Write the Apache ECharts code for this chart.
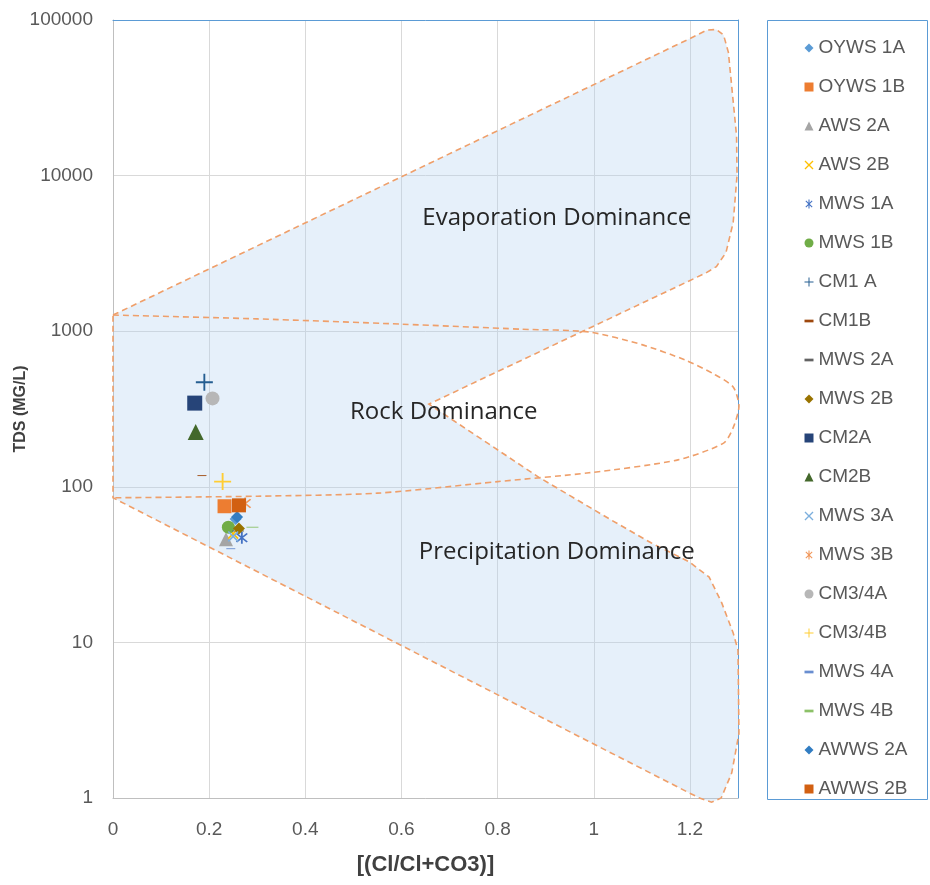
<!DOCTYPE html>
<html><head><meta charset="utf-8">
<script src="https://cdn.jsdelivr.net/npm/echarts@6/dist/echarts.min.js"></script>
<style>html,body{margin:0;padding:0;background:#fff}#c{width:930px;height:885px}</style>
</head><body><div id="c"></div>
<script>
// ---- data ----
const seriesNames = ['OYWS 1A','OYWS 1B','AWS 2A','AWS 2B','MWS 1A','MWS 1B','CM1 A','CM1B','MWS 2A','MWS 2B',
  'CM2A','CM2B','MWS 3A','MWS 3B','CM3/4A','CM3/4B','MWS 4A','MWS 4B','AWWS 2A','AWWS 2B'];
const seriesX = [0.255,0.232,0.235,0.250,0.268,0.240,0.190,0.185,0.260,0.262,
  0.170,0.172,0.250,0.275,0.207,0.228,0.245,0.290,0.258,0.262];
const seriesY = [62,75,46,50,47,55,470,118,52,54,
  345,225,48,78,370,108,40,55,64,76];
const xTicks = [0,0.2,0.4,0.6,0.8,1,1.2];
const yTicks = [1,10,100,1000,10000,100000];

// Gibbs boomerang outline (Cl/(Cl+CO3), TDS)
const shapeX = [0,1.20,1.235,1.255,1.27,1.28,1.29,1.297,1.298,1.29,1.275,1.255,1.233,
  0.657,0.886,1.037,1.12,1.198,1.24,1.266,1.29,1.30,1.302,1.287,1.265,1.245,1.22,1.198,0];
const shapeY = [1270,76000,86000,87000,80000,62000,30000,18000,10000,5000,3200,2600,2366,
  340,115,61,43.5,33,26.3,18,11.5,8.9,2.6,1.45,1.0,0.94,1.0,1.08,85];
// Rock dominance loop
const loopX = [0,0.3,0.6,0.85,0.99,1.1,1.19,1.25,1.29,1.302,1.29,1.27,1.175,0.99,0.8,0.55,0.3,0];
const loopY = [1270,1200,1110,1030,988,820,653,530,438,330,240,191,149,123,108,91,87,85];
const regionLabels = ['Evaporation Dominance','Rock Dominance','Precipitation Dominance'];
const regionX = [0.923,0.688,0.923];
const regionY = [5340,302,38.1];

// ---- styles ----
function barsPath(angles, len, th) {
  return 'path://' + angles.map(a => {
    const r = a*Math.PI/180, c = Math.cos(r), s = Math.sin(r), hl = len/2, ht = th/2;
    const pts = [[-hl,-ht],[hl,-ht],[hl,ht],[-hl,ht]].map(([x,y]) => [10+x*c-y*s, 10+x*s+y*c]);
    return 'M' + pts.map(p => p[0].toFixed(2)+','+p[1].toFixed(2)).join('L') + 'Z';
  }).join('');
}
const SYM = {
  diamond:'diamond', square:'rect', triangle:'triangle', circle:'circle',
  x: barsPath([45,-45],20,2.4), star: barsPath([45,-45,90],20,2.4), plus: barsPath([0,90],20,2.2),
  dash: 'path://M0,0L10,0L10,3L0,3Z'
};
const styleList = [
  ['diamond','#5B9BD5',12],['square','#ED7D31',14],['triangle','#A5A5A5',14],['x','#FFC000',11],
  ['star','#4472C4',12],['circle','#70AD47',13],['plus','#255E91',17],['dash','#9E480E',[9,3]],
  ['dash','#636363',[12,3]],['diamond','#997300',12],['square','#264478',15],['triangle','#43682B',16],
  ['x','#7CAFDD',11],['star','#F1975A',12],['circle','#B7B7B7',14],['plus','#FFCD33',17],
  ['dash','#698ED0',[9,3]],['dash','#8CC168',[12,3]],['diamond','#327DC2',12],['square','#D26012',14]
];

const FILL = 'rgba(176,208,238,0.32)';
const DASH = '#EF9F6A';
const FONT = '"Liberation Sans",sans-serif';

const series = [];
series.push({
  type:'custom', silent:true, z:1, clip:false, data:[[0,1]],
  renderItem:(p, api) => ({
    type:'polygon',
    shape:{points: shapeX.map((x,i) => api.coord([x, shapeY[i]]))},
    style:{fill:FILL, stroke:DASH, lineWidth:1.6, lineDash:[6,4]}
  })
});
series.push({
  type:'custom', silent:true, z:2, clip:false, data:[[0,1]],
  renderItem:(p, api) => ({
    type:'polyline',
    shape:{points: loopX.map((x,i) => api.coord([x, loopY[i]])), smooth:0.25},
    style:{fill:null, stroke:DASH, lineWidth:1.6, lineDash:[6,4]}
  })
});
series.push({
  type:'custom', silent:true, z:2, data:[[0,1]],
  renderItem:(p, api) => ({
    type:'group',
    children: regionLabels.map((t,i) => {
      const pt = api.coord([regionX[i], regionY[i]]);
      return {type:'text', x:pt[0], y:pt[1],
        style:{text:t, fontSize:24, fontFamily:'"Open Sans", sans-serif', fill:'#262626', align:'center', verticalAlign:'middle'}};
    })
  })
});
seriesNames.forEach((n,i) => {
  const st = styleList[i];
  series.push({
    type:'scatter', name:n, z:5, symbol:SYM[st[0]], symbolSize:st[2],
    symbolKeepAspect: st[0]==='dash',
    itemStyle:{color:st[1], opacity:1},
    data:[[seriesX[i], seriesY[i]]]
  });
});

const chart = echarts.init(document.getElementById('c'), null, {renderer:'canvas'});
chart.setOption({
  animation:false,
  backgroundColor:'#ffffff',
  grid:{left:113, right:192, top:20, bottom:87, show:false, containLabel:false, outerBoundsMode:'none'},
  xAxis:[{type:'value', min:0, max:1.3, interval:0.2,
    name:'[(Cl/Cl+CO3)]', nameLocation:'middle', nameGap:56, nameMoveOverlap:false,
    nameTextStyle:{fontSize:22, fontWeight:'bold', color:'#404040', fontFamily:'"Liberation Sans Narrow","Liberation Sans",sans-serif'},
    axisLine:{show:true, onZero:false, lineStyle:{color:'#BFBFBF', width:1}}, axisTick:{show:false},
    axisLabel:{showMaxLabel:false, margin:22, fontSize:19, color:'#595959', fontFamily:FONT,
      formatter:v => xTicks.some(t => Math.abs(t-v)<1e-6) ? String(+v.toFixed(1)) : ''},
    splitLine:{show:true, lineStyle:{color:'#D9D9D9', width:1}}},
    {type:'value', position:'top', min:0, max:1.3, interval:0.2,
    axisLine:{show:true, onZero:false, lineStyle:{color:'#5B9BD5', width:1}}, axisTick:{show:false},
    axisLabel:{show:false}, splitLine:{show:false}}],
  yAxis:[{type:'log', logBase:10, min:yTicks[0], max:yTicks[yTicks.length-1],
    name:'TDS (MG/L)', nameLocation:'middle', nameGap:84, nameMoveOverlap:false,
    nameTextStyle:{fontSize:16, fontWeight:'bold', color:'#404040', fontFamily:FONT},
    axisLine:{show:true, onZero:false, lineStyle:{color:'#BFBFBF', width:1}}, axisTick:{show:false}, minorTick:{show:false},
    axisLabel:{margin:20, fontSize:19, color:'#595959', fontFamily:FONT, formatter:v => String(Math.round(v))},
    splitLine:{show:true, lineStyle:{color:'#D9D9D9', width:1}}},
    {type:'log', logBase:10, position:'right', min:yTicks[0], max:yTicks[yTicks.length-1],
    axisLine:{show:true, onZero:false, lineStyle:{color:'#5B9BD5', width:1}}, axisTick:{show:false},
    axisLabel:{show:false}, splitLine:{show:false}}],
  legend:{orient:'vertical', left:799.5, top:33.5, itemWidth:9, itemHeight:9, itemGap:20, selectedMode:false,
    data:seriesNames,
    textStyle:{color:'#595959', fontSize:19, lineHeight:19, fontFamily:FONT}},
  graphic:[{type:'rect', x:767.5, y:20.5, shape:{width:160, height:779}, style:{fill:null, stroke:'#5B9BD5', lineWidth:1}, silent:true}],
  series:series
});
</script></body></html>
